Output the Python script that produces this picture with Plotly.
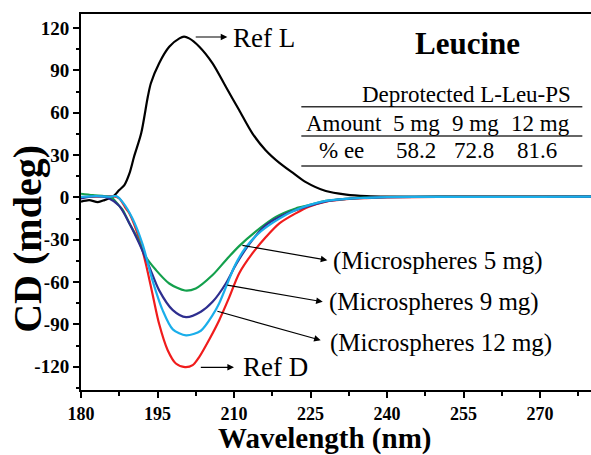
import plotly.graph_objects as go

# ---------------- data ----------------
wl_refL = [180, 181.6, 183.3, 184.6, 186.2, 187.5, 188.5, 189.5, 190.4, 191.8, 193.1, 193.7, 195.3,
           197.3, 199.3, 200.2, 201.2, 203.2, 205.8, 208.4, 211.0, 213.6, 216.2, 218.9, 221.5,
           224, 228, 232, 236, 240, 250, 260, 270, 280]
cd_refL = [-3.0, -1.9, -3.3, -1.9, 0.4, 5.2, 8.7, 17, 28.8, 45.4, 71.3, 80.9, 95,
           106.8, 112.7, 113.9, 112.7, 106.8, 95, 78.4, 61.9, 45.4, 33.5, 24.5, 17.5,
           11, 4.5, 2.0, 0.9, 0.5, 0.5, 0.5, 0.5, 0.5]

wl_refD = [180, 183, 186.2, 187.5, 188.8, 189.5, 191.4, 192.7, 194.0, 195.3, 197.0, 198.6, 200.4,
           201.9, 203.2, 205.1, 207.1, 209.1, 211.0, 213.6, 216.3, 218.9, 222.1, 224.7, 228,
           232, 236, 240, 250, 260, 270, 280]
cd_refD = [0.3, 0.5, 0.9, -0.7, -7.8, -11.4, -29.1, -46.8, -68.1, -89.4, -108.3, -117.7, -120.3,
           -118.9, -113, -101, -87, -70.5, -53.9, -39.7, -27.9, -18.4, -11.3, -6.6, -3.0,
           -1.3, -0.5, 0.0, 0.3, 0.4, 0.4, 0.5]

wl_5mg = [180, 182.3, 185.5, 186.2, 187.5, 188.2, 189.5, 191.1, 192.7, 194.7, 197.3, 200.4, 202.5,
          205.8, 208.4, 211.0, 214.3, 218.2, 222.1, 224.7, 228, 232, 236, 240, 250, 260, 270, 280]
cd_5mg = [2.6, 1.6, 0.4, -0.7, -6.0, -9.0, -18.5, -29.1, -42.1, -51.5, -61.0, -66.0, -64.5,
          -55.0, -44.5, -34.5, -24.0, -13.8, -7.8, -5.5, -2.5, -1.0, -0.2, 0.3, 0.4, 0.4, 0.4, 0.5]

wl_9mg = [180, 182.9, 185.5, 187.5, 189.5, 191.4, 193.4, 195.3, 198.0, 200.6, 203.5, 205.8,
          208.4, 210.4, 213.0, 216.3, 220.2, 224.7, 228, 232, 236, 240, 250, 260, 270, 280]
cd_9mg = [-0.7, 0.9, -0.7, -6.0, -18.5, -32.6, -49.2, -65.7, -79.9, -84.9, -81.0, -74.0,
          -61.0, -47.5, -33.0, -19.5, -11.5, -6.0, -2.8, -1.0, -0.3, 0.2, 0.4, 0.4, 0.4, 0.5]

wl_12mg = [180, 182.9, 185.5, 186.9, 188.2, 190.1, 192.1, 194.0, 196.0, 198.0, 200.6, 203.5, 205.8,
           207.1, 208.6, 210.2, 212.3, 215.3, 218.9, 222.1, 224.7, 228, 232, 236, 240, 250, 260, 270, 280]
cd_12mg = [0.4, 0.9, 0.5, 0.9, -3.5, -15.0, -33.5, -58.6, -79.9, -93.5, -97.8, -94.5, -83.5,
           -75.0, -62.0, -48.0, -35.5, -24.0, -15.0, -9.0, -5.5, -2.5, -1.0, -0.3, 0.2, 0.4, 0.4, 0.4, 0.5]

x_ticks = [180, 195, 210, 225, 240, 255, 270]
y_ticks = [-120, -90, -60, -30, 0, 30, 60, 90, 120]

table_header = "Deprotected L-Leu-PS"
table_row1_label = "Amount"
table_amounts = ["5 mg", "9 mg", "12 mg"]
table_row2_label = "% ee"
table_ee = [58.2, 72.8, 81.6]

# ---------------- figure ----------------
SERIF = "Liberation Serif, Times New Roman, serif"
fig = go.Figure()

series = [
    (wl_refL, cd_refL, "Ref L", "#000000"),
    (wl_refD, cd_refD, "Ref D", "#f01c1c"),
    (wl_5mg, cd_5mg, "Microspheres 5 mg", "#13a04c"),
    (wl_9mg, cd_9mg, "Microspheres 9 mg", "#2e2e8f"),
    (wl_12mg, cd_12mg, "Microspheres 12 mg", "#1aaeea"),
]
for xs, ys, name, col in series:
    fig.add_trace(go.Scatter(x=xs, y=ys, mode="lines", name=name,
                             line=dict(color=col, width=2.2, shape="spline", smoothing=0.8),
                             showlegend=False))

annotations = []
arrows = [
    # (tail_x, tail_y, head_x, head_y, text, text_x, text_y, font size)
    (202.2, 113.7, 208.7, 113.7, "Ref L", 209.4, 113.0, 27),
    (203.2, -120.4, 210.0, -120.4, "Ref D", 211.3, -120.0, 27),
    (211.35, -33.8, 228.3, -44.5, "(Microspheres 5 mg)", 229.0, -45.0, 25),
    (208.4, -62.0, 227.4, -74.0, "(Microspheres 9 mg)", 228.3, -74.0, 25),
    (206.45, -80.4, 227.0, -101.2, "(Microspheres 12 mg)", 228.5, -103.0, 25),
]
for tx, ty, hx, hy, txt, lx, ly, fs in arrows:
    annotations.append(dict(x=hx, y=hy, ax=tx, ay=ty, xref="x", yref="y", axref="x", ayref="y",
                            text="", showarrow=True, arrowhead=2, arrowsize=1.1, arrowwidth=1.2,
                            arrowcolor="#000000"))
    annotations.append(dict(x=lx, y=ly, xref="x", yref="y", text=txt, showarrow=False,
                            xanchor="left", yanchor="middle",
                            font=dict(family=SERIF, size=fs, color="#000000")))

annotations.append(dict(x=255.7, y=109.4, xref="x", yref="y", text="<b>Leucine</b>", showarrow=False,
                        xanchor="center", yanchor="middle",
                        font=dict(family=SERIF, size=31, color="#000000")))

tfont = dict(family=SERIF, size=23, color="#000000")
annotations.append(dict(x=255.5, y=72.9, xref="x", yref="y", text=table_header, showarrow=False,
                        xanchor="center", yanchor="middle", font=tfont))
col_x1 = [245.7, 257.3, 270.0]
col_x2 = [245.7, 257.1, 269.4]
annotations.append(dict(x=231.6, y=52.6, xref="x", yref="y", text=table_row1_label, showarrow=False,
                        xanchor="center", yanchor="middle", font=tfont))
for cx, a in zip(col_x1, table_amounts):
    annotations.append(dict(x=cx, y=52.6, xref="x", yref="y", text=a, showarrow=False,
                            xanchor="center", yanchor="middle", font=tfont))
annotations.append(dict(x=231.0, y=33.5, xref="x", yref="y", text=table_row2_label, showarrow=False,
                        xanchor="center", yanchor="middle", font=tfont))
for cx, e in zip(col_x2, table_ee):
    annotations.append(dict(x=cx, y=33.5, xref="x", yref="y", text=f"{e:.1f}", showarrow=False,
                            xanchor="center", yanchor="middle", font=tfont))

shapes = []
for ly in [64.3, 43.5, 22.2]:
    shapes.append(dict(type="line", xref="x", yref="y", x0=223.2, x1=278.3, y0=ly, y1=ly,
                       line=dict(color="#333333", width=1.5)))

annotations.append(dict(x=227.7, y=-0.083, xref="x", yref="paper", text="<b>Wavelength (nm)</b>",
                        showarrow=False, xanchor="center", yanchor="top", borderpad=0,
                        font=dict(family=SERIF, size=29, color="#000000")))
annotations.append(dict(x=-0.105, y=-29.0, xref="paper", yref="y", text="<b>CD (mdeg)</b>",
                        showarrow=False, xanchor="center", yanchor="middle", textangle=-90,
                        font=dict(family=SERIF, size=40, color="#000000")))

fig.update_layout(
    template="none",
    width=591, height=455,
    margin=dict(l=81, r=0, t=14, b=65, autoexpand=False),
    paper_bgcolor="white", plot_bgcolor="white",
    annotations=annotations, shapes=shapes,
    font=dict(family=SERIF, color="#000000"),
)
fig.update_xaxes(range=[180, 280], tickvals=x_ticks, ticktext=[f"<b>{v}</b>" for v in x_ticks],
                 automargin=False,
                 showgrid=False, zeroline=False, showline=True, linewidth=2, linecolor="#000000",
                 mirror=True, ticks="outside", ticklen=6, tickwidth=1.5, tickcolor="#000000",
                 tickfont=dict(family=SERIF, size=18, color="#000000"),
                 minor=dict(dtick=7.5, tick0=180, ticks="outside", ticklen=3.5, tickwidth=1.5,
                            tickcolor="#000000", showgrid=False))
fig.update_yaxes(range=[-136.5, 130], tickvals=y_ticks, ticktext=[f"<b>{v}</b>" for v in y_ticks],
                 automargin=False,
                 showgrid=False, zeroline=False, showline=True, linewidth=2, linecolor="#000000",
                 mirror=False, ticks="outside", ticklen=6, tickwidth=1.5, tickcolor="#000000",
                 tickfont=dict(family=SERIF, size=19, color="#000000"),
                 minor=dict(dtick=15, tick0=0, ticks="outside", ticklen=3.5, tickwidth=1.5,
                            tickcolor="#000000", showgrid=False))

fig.write_html("out.html", config={"displayModeBar": False},
               post_script="document.body.style.margin='0px';")
